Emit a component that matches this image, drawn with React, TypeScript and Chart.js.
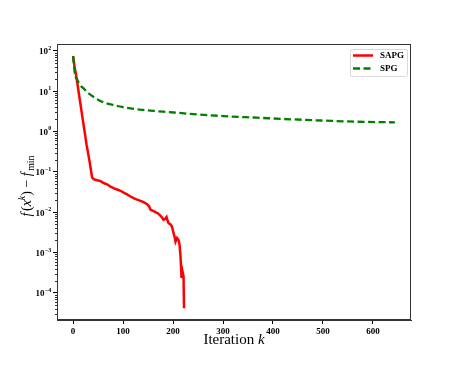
import React, { useEffect, useRef } from 'react';
import { Chart, registerables } from 'chart.js';

Chart.register(...registerables);

// ---- data ----
const sapgIter = [0, 3, 7, 12, 17, 22, 27, 33, 38, 41, 48, 55, 62, 68, 75, 82, 88, 95, 102, 108, 115, 122, 128, 135, 141, 148, 152, 155, 160, 165, 170, 175, 178, 181, 184, 187, 189, 191, 195, 198, 201, 203, 205, 208, 211, 213, 215, 217, 219, 221, 222];
const sapgGap = [74, 40, 20.9, 8.0, 3.09, 1.2, 0.468, 0.18, 0.0724, 0.066, 0.062, 0.0589, 0.052, 0.049, 0.0427, 0.039, 0.0365, 0.0339, 0.030, 0.0275, 0.0245, 0.022, 0.0205, 0.0191, 0.0178, 0.0158, 0.0140, 0.0115, 0.0108, 0.0100, 0.0093, 0.0081, 0.0074, 0.00646, 0.0068, 0.00759, 0.0062, 0.00537, 0.0050, 0.00437, 0.00302, 0.0025, 0.00186, 0.00229, 0.00204, 0.00160, 0.00079, 0.000234, 0.000339, 0.000257, 0.0000417];
const spgIter = [0, 2, 4, 8, 12, 16, 21, 30, 41, 50, 61, 75, 88, 105, 121, 140, 161, 181, 201, 241, 301, 368, 435, 501, 568, 644];
const spgGap = [74, 40, 25, 19.5, 15.5, 13.2, 11.7, 9.0, 7.2, 6.1, 5.25, 4.7, 4.27, 3.9, 3.63, 3.42, 3.24, 3.08, 2.95, 2.69, 2.40, 2.19, 2.0, 1.86, 1.74, 1.68];
const seriesNames = ['SAPG', 'SPG'];
const seriesColors = ['#ff0000', '#008000'];
const xTicks = [0, 100, 200, 300, 400, 500, 600];
const yTickExps = [-4, -3, -2, -1, 0, 1, 2];
const xMin = -32.2;
const xMax = 676.2;
const yMinExp = -4.67;
const yMaxExp = 2.166;

const SERIF = '"Liberation Serif", "DejaVu Serif", serif';

const toSup = (e: number) => {
  const map: Record<string, string> = { '-': '−' };
  return String(e).split('').map((c) => map[c] || c).join('');
};

const decorPlugin = {
  id: 'decor',
  afterDraw(chart: any) {
    const ctx = chart.ctx as CanvasRenderingContext2D;
    const { left, right, top, bottom } = chart.chartArea;
    const yScale = chart.scales.y;
    ctx.save();
    // frame
    ctx.strokeStyle = '#333';
    ctx.lineWidth = 1;
    ctx.strokeRect(left + 0.5, top + 0.5, right - left - 1, bottom - top - 1);

    // minor y ticks
    ctx.beginPath();
    for (let e = -5; e <= 2; e++) {
      for (let m = 2; m <= 9; m++) {
        const v = m * Math.pow(10, e);
        if (Math.log10(v) < yMinExp || Math.log10(v) > yMaxExp) continue;
        const py = Math.round(yScale.getPixelForValue(v)) + 0.5;
        ctx.moveTo(left, py);
        ctx.lineTo(left - 2, py);
      }
    }
    ctx.stroke();

    // y tick labels 10^e
    ctx.fillStyle = '#000';
    ctx.textBaseline = 'alphabetic';
    for (const e of yTickExps) {
      const py = yScale.getPixelForValue(Math.pow(10, e));
      const sup = toSup(e);
      ctx.font = `bold 6px ${SERIF}`;
      const supW = ctx.measureText(sup).width;
      ctx.font = `bold 9px ${SERIF}`;
      const baseW = ctx.measureText('10').width;
      const xEnd = left - 6;
      const x0 = xEnd - supW - baseW;
      ctx.fillText('10', x0, py + 3.5);
      ctx.font = `bold 6px ${SERIF}`;
      ctx.fillText(sup, x0 + baseW + 0.3, py - 1);
    }

    // y axis title
    ctx.save();
    ctx.translate(31, 186);
    ctx.rotate(-Math.PI / 2);
    const fs = 14;
    const parts = [
      { t: 'f', it: true, s: 0 },
      { t: '(', it: false, s: 0 },
      { t: 'x', it: true, s: 0 },
      { t: 'k', it: true, s: 1 },
      { t: ')', it: false, s: 0 },
      { t: ' − ', it: false, s: 0 },
      { t: 'f', it: true, s: 0 },
      { t: 'min', it: false, s: -1 },
    ];
    const fontFor = (p: any) => `${p.it ? 'italic ' : ''}${p.s !== 0 ? fs * 0.7 : fs}px ${SERIF}`;
    let total = 0;
    const widths = parts.map((p) => {
      ctx.font = fontFor(p);
      const w = ctx.measureText(p.t).width + (p.t === 'f' ? 1.5 : 0);
      total += w;
      return w;
    });
    let cx = -total / 2;
    parts.forEach((p, i) => {
      ctx.font = fontFor(p);
      const dy = p.s === 1 ? -6 : p.s === -1 ? 3 : 0;
      ctx.fillText(p.t, cx, dy);
      cx += widths[i];
    });
    ctx.restore();

    // x axis title
    ctx.font = `15px ${SERIF}`;
    const t1 = 'Iteration ';
    const w1 = ctx.measureText(t1).width;
    ctx.font = `italic 15px ${SERIF}`;
    const w2 = ctx.measureText('k').width;
    const xs = (left + right) / 2 - (w1 + w2) / 2;
    ctx.font = `15px ${SERIF}`;
    ctx.fillText(t1, xs, 344);
    ctx.font = `italic 15px ${SERIF}`;
    ctx.fillText('k', xs + w1, 344);

    // legend
    const lx = 350, ly = 49, lw = 57, lh = 27;
    ctx.fillStyle = 'rgba(255,255,255,0.8)';
    ctx.strokeStyle = '#d9d9d9';
    ctx.lineWidth = 1;
    ctx.beginPath();
    if ((ctx as any).roundRect) (ctx as any).roundRect(lx + 0.5, ly + 0.5, lw, lh, 2);
    else ctx.rect(lx + 0.5, ly + 0.5, lw, lh);
    ctx.fill();
    ctx.stroke();
    const rows = [55.5, 68.5];
    seriesNames.forEach((name, i) => {
      ctx.strokeStyle = seriesColors[i];
      ctx.lineWidth = 2.5;
      ctx.setLineDash(i === 1 ? [7, 3.5] : []);
      ctx.beginPath();
      ctx.moveTo(353, rows[i]);
      ctx.lineTo(373, rows[i]);
      ctx.stroke();
      ctx.setLineDash([]);
      ctx.fillStyle = '#000';
      ctx.font = `bold 9px ${SERIF}`;
      ctx.textBaseline = 'middle';
      ctx.fillText(name, 380, rows[i] + 0.5);
    });
    ctx.restore();
  },
};

export default function App() {
  const ref = useRef<HTMLCanvasElement>(null);
  useEffect(() => {
    if (!ref.current) return;
    const chart = new Chart(ref.current, {
      type: 'line',
      data: {
        datasets: [
          {
            label: seriesNames[0],
            data: sapgIter.map((x, i) => ({ x, y: sapgGap[i] })),
            borderColor: seriesColors[0],
            borderWidth: 2.5,
            pointRadius: 0,
            fill: false,
            order: 1,
          },
          {
            label: seriesNames[1],
            data: spgIter.map((x, i) => ({ x, y: spgGap[i] })),
            borderColor: seriesColors[1],
            borderWidth: 2.3,
            borderDash: [7, 3.5],
            pointRadius: 0,
            fill: false,
            cubicInterpolationMode: 'monotone',
            order: 0,
          },
        ],
      },
      options: {
        responsive: false,
        animation: false,
        layout: { padding: { left: 0, top: 44, right: 46, bottom: 0 } },
        plugins: { legend: { display: false }, tooltip: { enabled: false } },
        scales: {
          x: {
            type: 'linear',
            min: xMin,
            max: xMax,
            afterBuildTicks: (s: any) => {
              s.ticks = xTicks.map((v) => ({ value: v }));
            },
            afterFit: (s: any) => {
              s.height = 46;
            },
            grid: { drawOnChartArea: false, drawTicks: true, tickLength: 4, tickColor: '#000' },
            border: { display: true, color: '#333' },
            ticks: {
              color: '#000',
              font: { family: SERIF, size: 9, weight: 'bold' },
              padding: 2,
              maxRotation: 0,
              autoSkip: false,
              callback: (v: any) => String(v),
            },
          },
          y: {
            type: 'logarithmic',
            min: Math.pow(10, yMinExp),
            max: Math.pow(10, yMaxExp),
            afterBuildTicks: (s: any) => {
              s.ticks = yTickExps.map((e) => ({ value: Math.pow(10, e) }));
            },
            afterFit: (s: any) => {
              s.width = 57;
            },
            grid: { drawOnChartArea: false, drawTicks: true, tickLength: 4, tickColor: '#000' },
            border: { display: true, color: '#333' },
            ticks: { display: true, callback: () => '', font: { size: 9 } },
          },
        },
      },
      plugins: [decorPlugin],
    } as any);
    return () => chart.destroy();
  }, []);
  return (
    <canvas
      ref={ref}
      width={457}
      height={366}
      style={{ position: 'fixed', left: 0, top: 0, display: 'block' }}
    />
  );
}
